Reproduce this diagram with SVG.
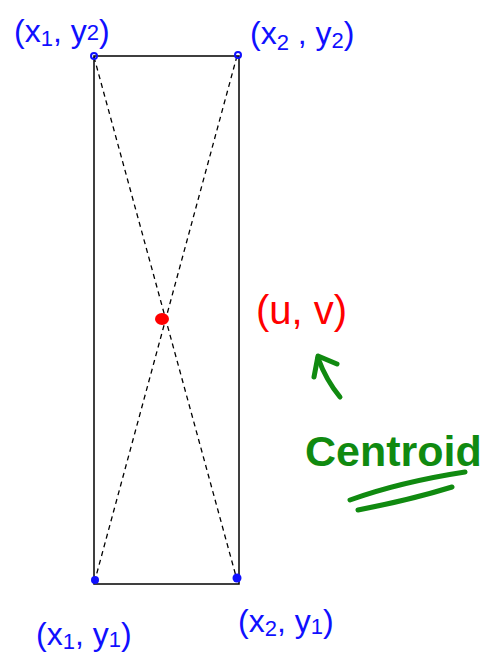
<svg xmlns="http://www.w3.org/2000/svg" width="483" height="657" viewBox="0 0 483 657">
<style>
.lbl{font-family:"Liberation Sans",Arial,sans-serif;font-size:32px;fill:#1010ff}
.sub{font-size:22px}
.pt{fill:none;stroke:#1010ff;stroke-width:2}
</style>
<rect width="483" height="657" fill="#fff"/>
<g id="rect">
<rect x="94" y="56" width="145" height="528" fill="none" stroke="#000" stroke-width="1.5"/>
</g>
<g id="connectors" stroke="#000" stroke-width="1.3" stroke-dasharray="5,4" fill="none">
<path d="M94,57 L237,580"/>
<path d="M237,56 L95,580"/>
</g>
<g id="corners">
<circle class="pt" cx="94" cy="56" r="3"/>
<circle class="pt" cx="238" cy="55" r="3"/>
<circle cx="95" cy="580" r="4" fill="#1010ff"/>
<circle cx="237" cy="578" r="4.5" fill="#1010ff"/>
</g>
<g id="centroid">
<ellipse cx="162" cy="319" rx="7" ry="6" fill="#ff0000"/>
</g>
<g id="label-x1y2"><text class="lbl" x="14" y="42">(x<tspan class="sub" dy="4">1</tspan><tspan dy="-4">, y</tspan><tspan class="sub" dy="-2">2</tspan><tspan dy="2">)</tspan></text></g>
<g id="label-x2y2"><text class="lbl" x="250" y="44">(x<tspan class="sub" dy="6">2</tspan><tspan dy="-6"> , y</tspan><tspan class="sub" dy="4">2</tspan><tspan dy="-4">)</tspan></text></g>
<g id="label-x1y1"><text class="lbl" x="36" y="645">(x<tspan class="sub" dy="4">1</tspan><tspan dy="-4">, y</tspan><tspan class="sub" dy="2">1</tspan><tspan dy="-2">)</tspan></text></g>
<g id="label-x2y1"><text class="lbl" x="238" y="632">(x<tspan class="sub" dy="4">2</tspan><tspan dy="-4">, y</tspan><tspan class="sub" dy="2">1</tspan><tspan dy="-2">)</tspan></text></g>
<g id="label-uv"><text x="256" y="324" font-family="Liberation Sans,Arial,sans-serif" font-size="40" fill="#ff0000">(u, v)</text></g>
<g id="arrow" stroke="#108a10" stroke-width="5" stroke-linecap="round" stroke-linejoin="round" fill="none">
<path d="M340,397 Q326,380 318,358"/>
<path d="M314,377 L318,356 L337,364"/>
</g>
<g id="label-centroid">
<text x="305" y="466" font-family="Liberation Sans,Arial,sans-serif" font-size="43" font-weight="bold" fill="#108a10">Centroid</text>
<path d="M350,500 Q400,482 465,472 M358,510 Q410,500 452,487" stroke="#108a10" stroke-width="5" stroke-linecap="round" fill="none"/>
</g>
</svg>
